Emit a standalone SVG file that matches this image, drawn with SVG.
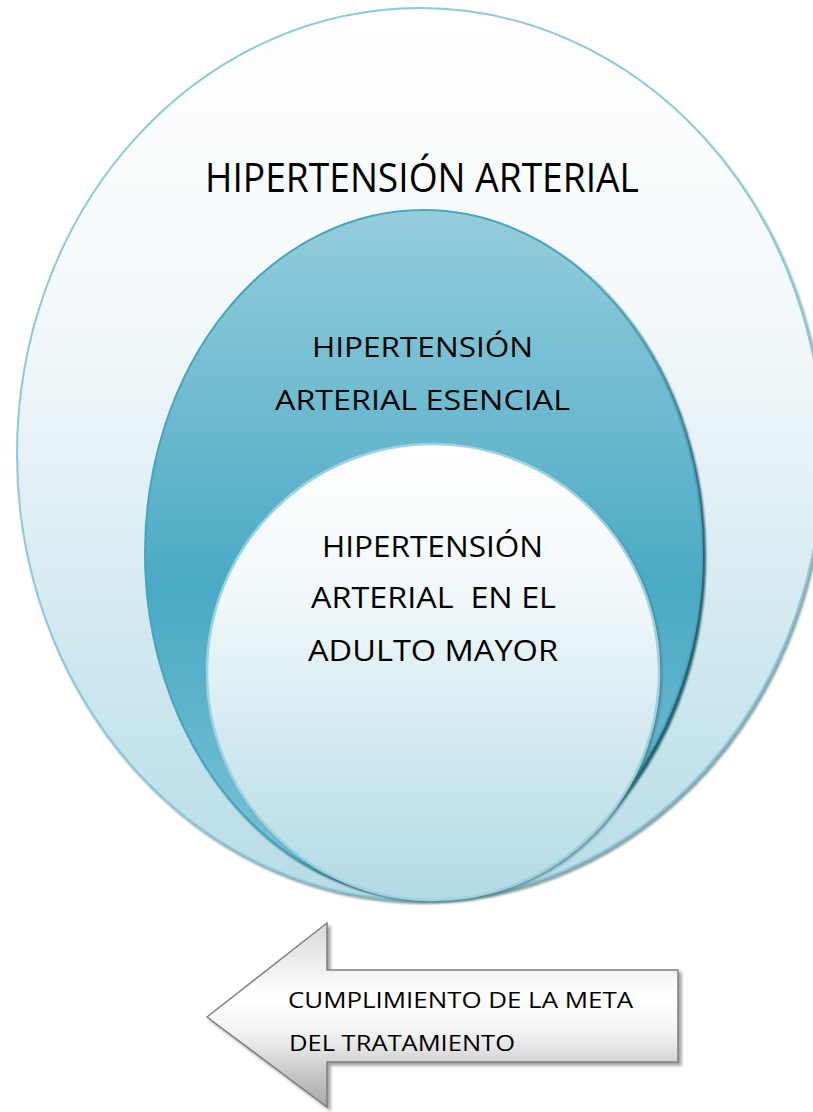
<svg xmlns="http://www.w3.org/2000/svg" width="813" height="1112" viewBox="0 0 813 1112">
  <defs>
    <linearGradient id="gOuter" x1="0" y1="0" x2="0" y2="1">
      <stop offset="0" stop-color="#ffffff"/>
      <stop offset="0.35" stop-color="#f3f8fa"/>
      <stop offset="1" stop-color="#b6dce7"/>
    </linearGradient>
    <linearGradient id="gMiddle" x1="0" y1="0" x2="0" y2="1">
      <stop offset="0" stop-color="#95cddc"/>
      <stop offset="0.55" stop-color="#4aaac5"/>
      <stop offset="1" stop-color="#7ec3d6"/>
    </linearGradient>
    <linearGradient id="gInner" x1="0" y1="0" x2="0" y2="1">
      <stop offset="0" stop-color="#ffffff"/>
      <stop offset="0.3" stop-color="#f3f9fb"/>
      <stop offset="1" stop-color="#b2dae5"/>
    </linearGradient>
    <linearGradient id="gArrow" x1="0" y1="0" x2="0" y2="1">
      <stop offset="0" stop-color="#d9d9d9"/>
      <stop offset="0.4" stop-color="#ffffff"/>
      <stop offset="0.6" stop-color="#f2f2f2"/>
      <stop offset="1" stop-color="#a6a6a6"/>
    </linearGradient>
    <filter id="shOuter" x="-5%" y="-5%" width="115%" height="115%">
      <feDropShadow dx="2" dy="3" stdDeviation="0.8" flood-color="#7f9aa0" flood-opacity="0.9"/>
    </filter>
    <filter id="shMiddle" x="-5%" y="-5%" width="115%" height="115%">
      <feDropShadow dx="3" dy="3" stdDeviation="1" flood-color="#174f5d" flood-opacity="0.9"/>
    </filter>
    <filter id="shInner" x="-5%" y="-5%" width="115%" height="115%">
      <feDropShadow dx="2" dy="2" stdDeviation="1" flood-color="#3d7180" flood-opacity="0.6"/>
    </filter>
    <filter id="shArrow" x="-5%" y="-5%" width="115%" height="115%">
      <feDropShadow dx="3" dy="3" stdDeviation="1.5" flood-color="#7f7f7f" flood-opacity="0.7"/>
    </filter>
  </defs>
  <style>
    .lbl { font-family: "Open Sans", "Liberation Sans", sans-serif; fill: #000000; text-anchor: start; }
    .outer { fill: url(#gOuter); stroke: #8ccad9; stroke-width: 2; filter: url(#shOuter); }
    .middle { fill: url(#gMiddle); stroke: #45a6c1; stroke-width: 2; filter: url(#shMiddle); }
    .inner { fill: url(#gInner); stroke: #9fd2e0; stroke-width: 2.5; filter: url(#shInner); }
    .arrow { fill: url(#gArrow); stroke: #808080; stroke-width: 1.5; filter: url(#shArrow); }
  </style>
  <rect width="813" height="1112" fill="#ffffff"/>

  <g id="node-hta">
    <ellipse class="outer" cx="420" cy="454" rx="403" ry="446"/>
    <text class="lbl" x="205" y="192" font-size="40" textLength="434" lengthAdjust="spacingAndGlyphs">HIPERTENSIÓN ARTERIAL</text>
  </g>

  <g id="node-hta-esencial">
    <ellipse class="middle" cx="423.5" cy="553" rx="278.5" ry="343"/>
    <text class="lbl" x="312" y="357" font-size="28" textLength="221" lengthAdjust="spacingAndGlyphs">HIPERTENSIÓN</text>
    <text class="lbl" x="275" y="410" font-size="28" textLength="295" lengthAdjust="spacingAndGlyphs">ARTERIAL ESENCIAL</text>
  </g>

  <g id="node-hta-adulto-mayor">
    <ellipse class="inner" cx="433" cy="672" rx="226" ry="228"/>
    <text class="lbl" x="322" y="557" font-size="30" textLength="221" lengthAdjust="spacingAndGlyphs">HIPERTENSIÓN</text>
    <text class="lbl" x="311" y="608" font-size="30" textLength="245" lengthAdjust="spacingAndGlyphs" xml:space="preserve">ARTERIAL  EN EL</text>
    <text class="lbl" x="308" y="661" font-size="30" textLength="250" lengthAdjust="spacingAndGlyphs">ADULTO MAYOR</text>
  </g>

  <g id="connectors"></g>

  <g id="node-meta">
    <polygon class="arrow" points="207,1017 327,923 327,970 678,970 678,1062 327,1062 327,1107"/>
    <text class="lbl" x="288" y="1008" font-size="22" textLength="345" lengthAdjust="spacingAndGlyphs">CUMPLIMIENTO DE LA META</text>
    <text class="lbl" x="289" y="1051" font-size="22" textLength="226" lengthAdjust="spacingAndGlyphs">DEL TRATAMIENTO</text>
  </g>
</svg>
